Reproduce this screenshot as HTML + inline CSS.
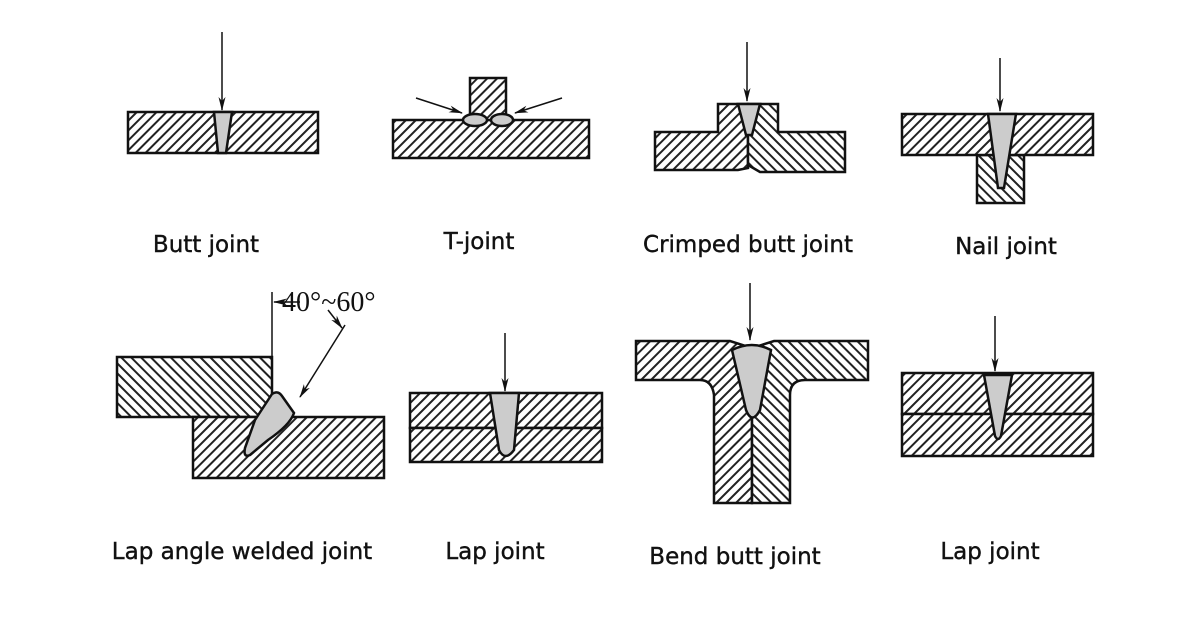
<!DOCTYPE html>
<html><head><meta charset="utf-8"><style>
html,body{margin:0;padding:0;background:#fff;width:1200px;height:630px;overflow:hidden}
svg{display:block}
text{font-family:"DejaVu Sans","Liberation Sans",sans-serif;font-size:23px;fill:#111;stroke:#111;stroke-width:0.4}
</style></head><body>
<svg width="1200" height="630" viewBox="0 0 1200 630" xmlns="http://www.w3.org/2000/svg">
<defs>
<pattern id="h" patternUnits="userSpaceOnUse" width="7" height="7" patternTransform="rotate(45)">
<rect width="7" height="7" fill="#fff"/><rect x="0" y="0" width="2" height="7" fill="#222"/>
</pattern>
<pattern id="h2" patternUnits="userSpaceOnUse" width="7" height="7" patternTransform="rotate(-45)">
<rect width="7" height="7" fill="#fff"/><rect x="0" y="0" width="2" height="7" fill="#222"/>
</pattern>
<marker id="a" markerWidth="14" markerHeight="10" refX="13" refY="5" orient="auto" markerUnits="userSpaceOnUse">
<path d="M0,1.5 L14,5 L0,8.5 L4,5 Z" fill="#111"/></marker>
</defs>
<g stroke="#111" stroke-width="2.5" fill="url(#h)">
<rect x="128" y="112" width="190" height="41"/>
<path d="M214,112 L232,112 L226,153 L218,153 Z" fill="#ccc"/>
<rect x="393" y="120" width="196" height="38"/>
<rect x="470" y="78" width="36" height="42"/>
<ellipse cx="475" cy="120" rx="12" ry="6" fill="#ccc"/>
<ellipse cx="502" cy="120" rx="11" ry="6" fill="#ccc"/>
<path d="M655,132 L718,132 L718,104 L748,104 L748,168 L738,170 L655,170 Z"/>
<path d="M748,104 L778,104 L778,132 L845,132 L845,172 L760,172 L748,165 Z" fill="url(#h2)"/>
<path d="M738,104 L760,104 L752,135 L746,135 Z" fill="#ccc"/>
<rect x="977" y="155" width="47" height="48" fill="url(#h2)"/>
<rect x="902" y="114" width="191" height="41"/>
<path d="M988,114 L1016,114 L1004,188 L998,188 Z" fill="#ccc"/>
<rect x="117" y="357" width="155" height="60" fill="url(#h2)"/>
<rect x="193" y="417" width="191" height="61"/>
<path d="M272,394 Q278,390 282,396 L294,413 Q290,425 268,440 L250,455 Q243,458 245,448 L255,420 Z" fill="#ccc"/>
<rect x="410" y="393" width="192" height="35"/>
<rect x="410" y="428" width="192" height="34"/>
<path d="M490,393 L519,393 L514,450 Q505,462 499,450 Z" fill="#ccc"/>
<path d="M636,341 L730,341 L752,348 L752,503 L714,503 L714,395 Q712,380 700,380 L636,380 Z"/>
<path d="M752,348 L774,341 L868,341 L868,380 L805,380 Q790,380 790,395 L790,503 L752,503 Z" fill="url(#h2)"/>
<path d="M732,350 Q752,340 771,350 L760,410 Q752,425 746,410 Z" fill="#ccc"/>
<rect x="902" y="373" width="191" height="41"/>
<rect x="902" y="414" width="191" height="42"/>
<path d="M984,375 L1012,375 L1001,436 Q998,442 995,436 Z" fill="#ccc"/>
</g>
<g stroke="#111" stroke-width="1.5" fill="none">
<line x1="222" y1="32" x2="222" y2="110" marker-end="url(#a)"/>
<line x1="416" y1="98" x2="462" y2="113" marker-end="url(#a)"/>
<line x1="562" y1="98" x2="515" y2="113" marker-end="url(#a)"/>
<line x1="747" y1="42" x2="747" y2="101" marker-end="url(#a)"/>
<line x1="1000" y1="58" x2="1000" y2="111" marker-end="url(#a)"/>
<line x1="272" y1="292" x2="272" y2="357"/>
<line x1="300" y1="302" x2="274" y2="302" marker-end="url(#a)"/>
<line x1="345" y1="325" x2="300" y2="397" marker-end="url(#a)"/>
<line x1="328" y1="310" x2="342" y2="328" marker-end="url(#a)"/>
<line x1="505" y1="333" x2="505" y2="391" marker-end="url(#a)"/>
<line x1="750" y1="283" x2="750" y2="340" marker-end="url(#a)"/>
<line x1="995" y1="316" x2="995" y2="371" marker-end="url(#a)"/>
</g>
<text x="282" y="311" style="font-family:'Liberation Serif',serif;font-size:28px;stroke-width:0">40°~60°</text>
<g text-anchor="middle">
<text x="206" y="252">Butt joint</text>
<text x="479" y="249">T-joint</text>
<text x="748" y="252">Crimped butt joint</text>
<text x="1006" y="254">Nail joint</text>
<text x="242" y="559">Lap angle welded joint</text>
<text x="495" y="559">Lap joint</text>
<text x="735" y="564">Bend butt joint</text>
<text x="990" y="559">Lap joint</text>
</g>
</svg>
</body></html>
